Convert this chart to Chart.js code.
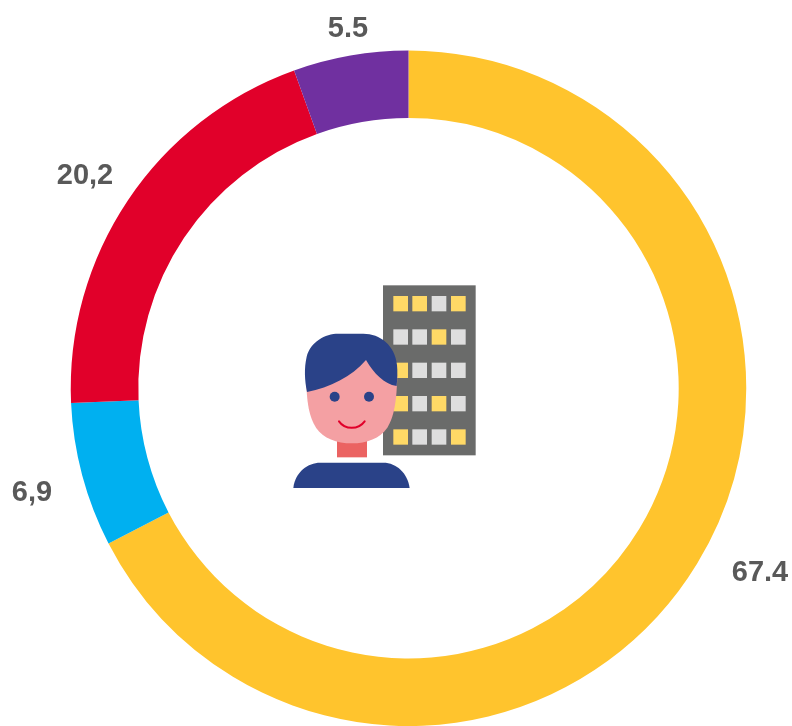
<!DOCTYPE html>
<html>
<head>
<meta charset="utf-8">
<style>
html,body{margin:0;padding:0;background:#fff;overflow:hidden}
#wrap{position:relative;width:792px;height:726px}
</style>
<script src="https://cdn.jsdelivr.net/npm/chart.js@4"></script>
</head>
<body>
<div id="wrap"><canvas id="c"></canvas></div>
<script>
const categories = ["A","B","C","D"];
const values = [67.4, 6.9, 20.2, 5.5];
const valueLabels = ["67.4","6,9","20,2","5.5"];
const colors = ["#FFC42D","#00B0F0","#E1002A","#7030A0"];

const labelPlugin = {
  id:'labels',
  afterDatasetsDraw(chart){
    const ctx = chart.ctx;
    const pos = [[760,572.5],[32,492.5],[85,175.5],[348,29]];
    ctx.save();
    ctx.font = 'bold 29px "Liberation Sans", Arial, sans-serif';
    ctx.fillStyle = '#595959';
    ctx.textAlign = 'center';
    ctx.textBaseline = 'middle';
    valueLabels.forEach((t,i)=>ctx.fillText(t,pos[i][0],pos[i][1]));
    ctx.restore();
  }
};

const iconPlugin = {
  id:'icon',
  afterDraw(chart){
    const ctx = chart.ctx;
    ctx.save();
    ctx.translate(280,275);
    ctx.scale(1/3,1/3);
    // building
    ctx.fillStyle='#6A6B6A';
    ctx.fillRect(309,31,278,510);
    const xs=[340,397,455,513], ys=[63,163,263,363,463];
    const Y='#FFD966', G='#DEDEDE';
    const grid=[[Y,Y,G,Y],[G,G,Y,G],[Y,G,G,G],[Y,G,Y,G],[Y,G,G,Y]];
    ys.forEach((y,r)=>xs.forEach((x,c)=>{ctx.fillStyle=grid[r][c];ctx.fillRect(x,y,44,46);}));
    // neck
    ctx.fillStyle='#EB6362';
    ctx.fillRect(171,490,90,57);
    // face
    ctx.fillStyle='#F4A0A3';
    ctx.beginPath();
    ctx.moveTo(78,300);
    ctx.bezierCurveTo(80,390,88,425,108,458);
    ctx.bezierCurveTo(130,490,170,505,215,505);
    ctx.bezierCurveTo(260,505,300,490,322,458);
    ctx.bezierCurveTo(342,425,350,380,352,300);
    ctx.lineTo(300,200);ctx.lineTo(120,200);
    ctx.closePath();ctx.fill();
    // hair
    ctx.fillStyle='#2A4288';
    ctx.beginPath();
    ctx.moveTo(81,351);
    ctx.bezierCurveTo(74,315,72,280,80,245);
    ctx.bezierCurveTo(92,200,135,176,175,176);
    ctx.lineTo(250,176);
    ctx.bezierCurveTo(300,176,345,210,351,270);
    ctx.bezierCurveTo(353,290,352,312,350,333);
    ctx.bezierCurveTo(312,328,282,295,258,255);
    ctx.bezierCurveTo(215,305,150,338,81,351);
    ctx.closePath();ctx.fill();
    // eyes
    ctx.beginPath();ctx.arc(164,365,15,0,Math.PI*2);ctx.fill();
    ctx.beginPath();ctx.arc(267,365,15,0,Math.PI*2);ctx.fill();
    // smile
    ctx.strokeStyle='#E1002A';ctx.lineWidth=6;ctx.lineCap='round';
    ctx.beginPath();ctx.moveTo(177,439);ctx.bezierCurveTo(195,465,235,465,254,439);ctx.stroke();
    // body
    ctx.fillStyle='#2A4288';
    ctx.beginPath();
    ctx.moveTo(40,639);
    ctx.bezierCurveTo(45,590,85,563,120,563);
    ctx.lineTo(310,563);
    ctx.bezierCurveTo(350,563,383,595,389,639);
    ctx.closePath();ctx.fill();
    ctx.restore();
  }
};

new Chart(document.getElementById('c'),{
  type:'doughnut',
  data:{labels:categories,datasets:[{data:values,backgroundColor:colors,borderWidth:0,hoverBorderWidth:0,hoverOffset:0}]},
  options:{
    responsive:true,
    maintainAspectRatio:false,
    animation:false,
    cutout:'80%',
    layout:{padding:{left:70,right:45,top:50.5,bottom:-1.5}},
    plugins:{legend:{display:false},tooltip:{enabled:false}}
  },
  plugins:[labelPlugin,iconPlugin]
});
</script>
</body>
</html>
